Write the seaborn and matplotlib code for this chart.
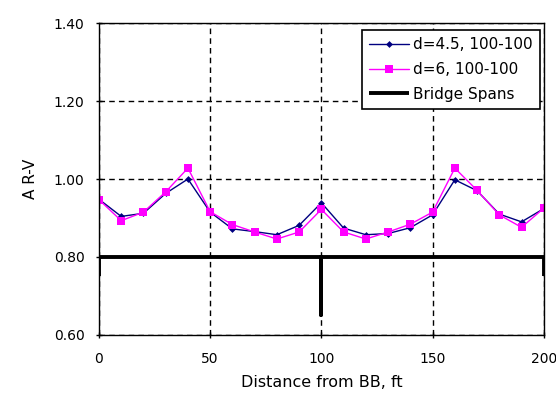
import numpy as np
import pandas as pd
import matplotlib
matplotlib.use("Agg")
import matplotlib.pyplot as plt
import seaborn as sns

distance = [0, 10, 20, 30, 40, 50, 60, 70, 80, 90, 100,
            110, 120, 130, 140, 150, 160, 170, 180, 190, 200]
d45 = [0.948, 0.904, 0.912, 0.963, 1.000, 0.915, 0.872, 0.865, 0.857, 0.881, 0.939,
       0.874, 0.857, 0.860, 0.875, 0.908, 0.998, 0.970, 0.910, 0.890, 0.924]
d6 = [0.947, 0.893, 0.915, 0.967, 1.028, 0.916, 0.883, 0.864, 0.846, 0.864, 0.922,
      0.864, 0.846, 0.864, 0.884, 0.915, 1.028, 0.971, 0.908, 0.876, 0.925]
span_x = [0, 0, 100, 100, 100, 200, 200]
span_y = [0.75, 0.80, 0.80, 0.65, 0.80, 0.80, 0.75]
y_ticks = [0.6, 0.8, 1.0, 1.2, 1.4]
y_ticklabels = ["0.60", "0.80", "1.00", "1.20", "1.40"]
x_ticks = [0, 50, 100, 150, 200]

sns.set_style("white")
plt.rcParams['font.family'] = ['DejaVu Sans']
plt.rcParams['text.color'] = 'black'
plt.rcParams['axes.labelcolor'] = 'black'
plt.rcParams['xtick.color'] = 'black'
plt.rcParams['ytick.color'] = 'black'

fig = plt.figure(figsize=(5.56, 3.93), dpi=100)
ax = fig.add_axes([0.178, 0.148, 0.800, 0.793])

df = pd.DataFrame({"x": distance, "d45": d45, "d6": d6})
sns.lineplot(data=df, x="x", y="d45", ax=ax, color="#000080", lw=1.0,
             marker="D", markersize=3.5, markeredgewidth=0, label="d=4.5, 100-100")
sns.lineplot(data=df, x="x", y="d6", ax=ax, color="#FF00FF", lw=1.0,
             marker="s", markersize=5.5, markeredgewidth=0, label="d=6, 100-100")
ax.plot(span_x, span_y, color="black", lw=2.8, solid_capstyle="butt",
        label="Bridge Spans", zorder=1)

ax.set_xlim(0, 200)
ax.set_ylim(0.6, 1.4)
ax.set_xticks(x_ticks)
ax.set_yticks(y_ticks)
ax.set_yticklabels(y_ticklabels)
ax.grid(True, color="black", linestyle=(0, (4, 3)), lw=1.0)
ax.set_axisbelow(True)
for s in ax.spines.values():
    s.set_color("black")
    s.set_linewidth(1.0)
ax.tick_params(axis="both", direction="inout", length=5, width=1, colors="black",
               labelcolor="black", labelsize=10, left=True, bottom=True)
ax.tick_params(axis="x", pad=10)
ax.tick_params(axis="y", pad=8)
ax.set_xlabel("Distance from BB, ft", fontsize=11.5, color="black")
ax.set_ylabel("A R-V", fontsize=11, color="black")
ax.xaxis.set_label_coords(0.5, -0.128)
ax.yaxis.set_label_coords(-0.137, 0.5)

leg = ax.legend(loc="upper right", bbox_to_anchor=(0.991, 0.978), borderaxespad=0,
                fontsize=11, frameon=True, fancybox=False, shadow=False,
                borderpad=0.45, handlelength=2.6, labelspacing=0.65, handletextpad=0.3)
leg.get_frame().set_edgecolor("black")
leg.get_frame().set_linewidth(1.2)
leg.get_frame().set_alpha(1)
for t in leg.get_texts():
    t.set_color("black")

fig.savefig("out.png", dpi=100)
